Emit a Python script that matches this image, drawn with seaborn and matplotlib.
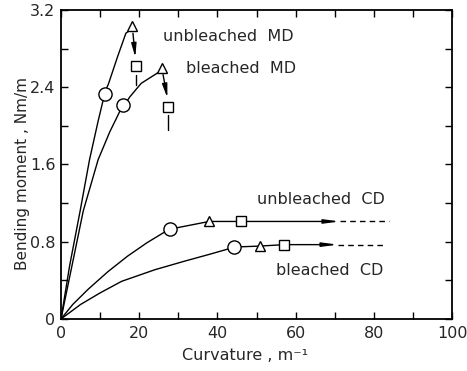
import numpy as np
import matplotlib
matplotlib.use("Agg")
import matplotlib.pyplot as plt
import seaborn as sns

# kurvor
ub_md_x = [0, 2.2, 4.9, 7.3, 9.5, 11.1]
ub_md_y = [0, 0.55, 1.12, 1.65, 2.05, 2.32]
ub_md_x2 = [11.3, 12.1, 14.5, 16.6, 18.0]
ub_md_y2 = [2.36, 2.43, 2.72, 2.96, 3.00]

b_md_x = [0, 2.8, 5.7, 9.5, 12.5, 14.2, 15.5]
b_md_y = [0, 0.55, 1.12, 1.65, 1.94, 2.08, 2.19]
b_md_x2 = [16.6, 17.6, 20.5, 24.0, 25.5]
b_md_y2 = [2.24, 2.30, 2.44, 2.53, 2.57]

ub_cd_x = [0, 3, 7, 12, 17, 22, 27.3]
ub_cd_y = [0, 0.15, 0.31, 0.49, 0.65, 0.79, 0.92]

b_cd_x = [0, 5, 10, 15.5, 24, 31.7, 38, 43.6]
b_cd_y = [0, 0.15, 0.27, 0.39, 0.51, 0.60, 0.67, 0.735]

# mätpunkter (cirkel, triangel, kvadrat)
circle_x = [11.25, 15.9, 27.8, 44.2]
circle_y = [2.33, 2.22, 0.93, 0.745]
tri_x = [18.2, 25.9, 37.9, 50.9]
tri_y = [3.03, 2.60, 1.01, 0.755]
sq_x = [19.1, 27.3, 46.0, 57.0]
sq_y = [2.62, 2.20, 1.01, 0.77]

# CD-pilar: slut på pil och slut på streckad linje
cd_arrow_end = [71.3, 70.8]
cd_dash_end = [83.9, 83.1]

fig = plt.figure(figsize=(4.67, 3.71), dpi=100)
sns.set_style("ticks")
plt.rcParams['font.family'] = ['DejaVu Sans']
ax = fig.add_axes([0.1306, 0.1402, 0.8374, 0.8329])

lw = 1.0
for xs, ys in [(ub_md_x, ub_md_y), (ub_md_x2, ub_md_y2), (b_md_x, b_md_y),
               (b_md_x2, b_md_y2), (ub_cd_x, ub_cd_y), (b_cd_x, b_cd_y)]:
    sns.lineplot(x=xs, y=ys, sort=False, color='black', lw=lw, ax=ax)

# CD: förbindelser mellan punkterna
for i in (2, 3):
    ax.plot([circle_x[i], tri_x[i], sq_x[i]], [circle_y[i], tri_y[i], sq_y[i]],
            color='black', lw=lw, zorder=2)

# MD: pilar från triangel ned till kvadrat + streck under kvadrat
for i in (0, 1):
    ax.annotate('', xy=(sq_x[i] - 0.1, sq_y[i] + 0.09), xytext=(tri_x[i] + 0.2, tri_y[i] - 0.07),
                arrowprops=dict(arrowstyle='-|>,head_length=0.8,head_width=0.15',
                                color='black', lw=lw, shrinkA=0, shrinkB=0))
    ax.plot([sq_x[i] + 0.1, sq_x[i] + 0.1], [sq_y[i] - 0.09, sq_y[i] - 0.2 - 0.04 * i],
            color='black', lw=lw)

# CD: pilar åt höger + streckad fortsättning
for j, i in enumerate((2, 3)):
    ax.annotate('', xy=(cd_arrow_end[j], sq_y[i]), xytext=(sq_x[i] + 1.3, sq_y[i]),
                arrowprops=dict(arrowstyle='-|>,head_length=0.9,head_width=0.12',
                                color='black', lw=lw, shrinkA=0, shrinkB=0))
    ax.plot([cd_arrow_end[j], cd_dash_end[j]], [sq_y[i], sq_y[i]],
            color='black', lw=lw, ls=(0, (4, 3)))

ax.plot(circle_x, circle_y, 'o', ms=9.5, mfc='white', mec='black', mew=1.0, zorder=5)
ax.plot(tri_x, tri_y, '^', ms=7, mfc='white', mec='black', mew=1.0, zorder=5)
ax.plot(sq_x, sq_y, 's', ms=7, mfc='white', mec='black', mew=1.0, zorder=5)

fs = 11.5
ax.text(26.2, 2.93, 'unbleached  MD', fontsize=fs, va='center', ha='left')
ax.text(32.0, 2.59, 'bleached  MD', fontsize=fs, va='center', ha='left')
ax.text(50.1, 1.24, 'unbleached  CD', fontsize=fs, va='center', ha='left')
ax.text(55.0, 0.507, 'bleached  CD', fontsize=fs, va='center', ha='left')

ax.set_xlim(0, 100)
ax.set_ylim(0, 3.2)
ax.set_xticks([0, 20, 40, 60, 80, 100])
ax.set_xticklabels(['0', '20', '40', '60', '80', '100'])
ax.set_xticks(np.arange(10, 100, 20), minor=True)
ax.set_yticks([0, 0.8, 1.6, 2.4, 3.2])
ax.set_yticklabels(['0', '0.8', '1.6', '2.4', '3.2'])
ax.set_yticks([0.4, 1.2, 2.0, 2.8], minor=True)
ax.tick_params(which='both', direction='in', top=True, right=True, length=5,
               width=1.0, labelsize=11.5, color='black')
ax.tick_params(axis='x', which='both', pad=5)
ax.tick_params(axis='y', which='both', pad=4)
for s in ax.spines.values():
    s.set_linewidth(1.3)
    s.set_color('black')

ax.set_xlabel('Curvature , m⁻¹', fontsize=11.5)
ax.set_ylabel('Bending moment , Nm/m', fontsize=11)
ax.xaxis.set_label_coords(0.47, -0.095)
ax.yaxis.set_label_coords(-0.08, 0.47)

fig.savefig('out.png', dpi=100)
